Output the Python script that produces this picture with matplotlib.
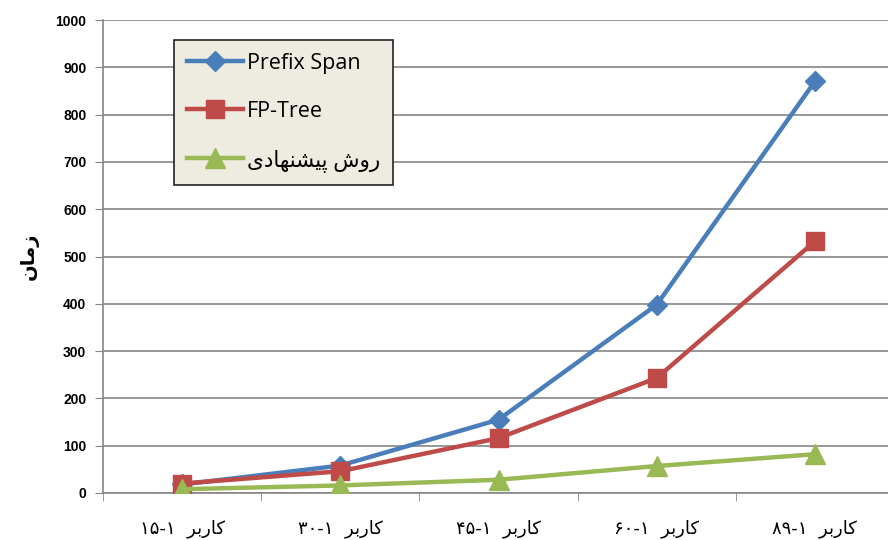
import matplotlib
matplotlib.use("Agg")
import matplotlib.pyplot as plt
from matplotlib.ticker import MultipleLocator, FixedLocator

# user ranges (1-N) on the x axis
range_end = [15, 30, 45, 60, 89]

prefix_span = [18, 58, 155, 398, 870]
fp_tree = [20, 46, 116, 243, 532]
proposed = [8, 16, 28, 57, 82]

y_ticks = list(range(0, 1001, 100))

# matplotlib does no Arabic shaping, so the Persian strings are written
# with presentation forms in visual (left-to-right) order
KARBAR = "\uFEAE\uFE91\uFEAD\uFE8E\uFB90"          # کاربر
ZAMAN = "\uFEE5\uFE8E\uFEE3\uFEAF"                 # زمان
PROPOSED = ("\uFBFC\uFEA9\uFE8E\uFEEC\uFEE8\uFEB8\uFBFF\uFB58"
            " \uFEB5\uFEED\uFEAD")                 # روش پیشنهادی

FA_DIGITS = str.maketrans("0123456789", "\u06F0\u06F1\u06F2\u06F3\u06F4\u06F5\u06F6\u06F7\u06F8\u06F9")


def fa(n):
    return str(n).translate(FA_DIGITS)


x_labels = [f"{fa(n)}-{fa(1)}  {KARBAR}" for n in range_end]

blue = "#4A7EBB"
red = "#BE4B48"
green = "#98B954"

fig = plt.figure(figsize=(8.88, 5.4), dpi=100)
ax = fig.add_axes([103 / 888, 1 - 493 / 540, 791 / 888, 473 / 540])

x = list(range(len(range_end)))
ax.plot(x, prefix_span, color=blue, lw=3.2, marker="D", ms=10,
        label="Prefix Span", zorder=3)
ax.plot(x, fp_tree, color=red, lw=3.2, marker="s", ms=13,
        label="FP-Tree", zorder=3)
ax.plot(x, proposed, color=green, lw=3.2, marker="^", ms=14,
        label=PROPOSED, zorder=3)

ax.set_xlim(-0.5, 4.5)
ax.set_ylim(0, 1000)
ax.yaxis.set_major_locator(FixedLocator(y_ticks))
ax.grid(axis="y", color="#868686", lw=1.2)
ax.set_axisbelow(True)

# category labels centred, tick marks on the boundaries
ax.set_xticks(x)
ax.set_xticklabels(x_labels, family=["DejaVu Sans"], fontsize=13)
ax.xaxis.set_minor_locator(MultipleLocator(1, offset=0.5))
ax.tick_params(axis="x", which="major", length=0, pad=19)
ax.tick_params(axis="x", which="minor", length=6, color="#868686")
ax.tick_params(axis="y", length=6, color="#868686", pad=6)
for lab in ax.get_yticklabels():
    lab.set_family("Liberation Sans")
    lab.set_fontweight("bold")
    lab.set_fontsize(10)

for side in ("top", "right"):
    ax.spines[side].set_visible(False)
for side in ("left", "bottom"):
    ax.spines[side].set_color("#868686")
    ax.spines[side].set_linewidth(1.2)

ax.set_ylabel(ZAMAN, family=["DejaVu Sans"], fontsize=14, fontweight="bold",
              labelpad=12)

leg = ax.legend(loc="upper left", bbox_to_anchor=((174 - 103) / 791, 1 - 20 / 473),
                borderaxespad=0,
                prop={"family": ["Open Sans", "DejaVu Sans"], "size": 15.5},
                fancybox=False, framealpha=1, facecolor="#EEECE1",
                edgecolor="#222222", handlelength=2.6, labelspacing=1.25,
                borderpad=0.6, handletextpad=0.2)
leg.get_frame().set_linewidth(1.2)

fig.savefig("out.png", dpi=100)
